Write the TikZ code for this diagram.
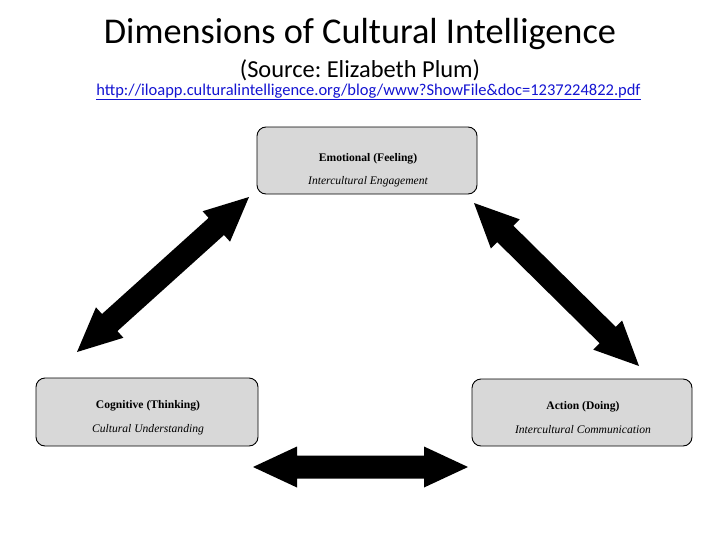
\documentclass[tikz,border=0pt]{standalone}
\usepackage{fontspec}
\setmainfont{Liberation Serif}
\newfontfamily\calib{Carlito}
\usetikzlibrary{calc}
\frenchspacing
\definecolor{boxfill}{RGB}{216,216,216}
\definecolor{linkblue}{RGB}{20,20,210}
\newcommand{\dblarrow}[2]{%
  \fill (#1)
    -- ($($(#1)!44pt!(#2)$)!20.5pt!90:(#1)$)
    -- ($($(#1)!44pt!(#2)$)!11.5pt!90:(#1)$)
    -- ($($(#2)!44pt!(#1)$)!11.5pt!90:(#1)$)
    -- ($($(#2)!44pt!(#1)$)!20.5pt!90:(#1)$)
    -- (#2)
    -- ($($(#2)!44pt!(#1)$)!20.5pt!-90:(#1)$)
    -- ($($(#2)!44pt!(#1)$)!11.5pt!-90:(#1)$)
    -- ($($(#1)!44pt!(#2)$)!11.5pt!-90:(#1)$)
    -- ($($(#1)!44pt!(#2)$)!20.5pt!-90:(#1)$)
    -- cycle;}
\begin{document}
\begin{tikzpicture}[x=1pt,y=-1pt,
  dimbox/.style={draw=black, line width=0.9pt, fill=boxfill, rounded corners=9pt, inner sep=0pt},
  headtxt/.style={font=\fontsize{11.6}{13}\selectfont\bfseries, inner sep=0pt},
  subtxt/.style={font=\fontsize{11.6}{13}\selectfont\itshape, inner sep=0pt}]
\useasboundingbox (0,0) rectangle (728,546);
\fill[white] (0,0) rectangle (728,546);
% titles
\node[font=\calib\fontsize{36.3}{40}\selectfont, inner sep=0pt] (title) at (360,34) {Dimensions of Cultural Intelligence};
\node[font=\calib\fontsize{24.4}{28}\selectfont, inner sep=0pt] (source) at (360,70) {(Source: Elizabeth Plum)};
\node[font=\calib\fontsize{16.5}{20}\selectfont, text=linkblue, inner sep=0pt] (url) at (368.5,92) {\underline{http://iloapp.culturalintelligence.org/blog/www?ShowFile\&doc=1237224822.pdf}};
% boxes
\node[dimbox, minimum width=220pt, minimum height=67pt] (emo) at (367,160.5) {};
\node[dimbox, minimum width=222pt, minimum height=68pt] (cog) at (147,412) {};
\node[dimbox, minimum width=220pt, minimum height=67pt] (act) at (582,412.5) {};
\node[headtxt] (emoh) at (368,159) {Emotional (Feeling)};
\node[subtxt] (emos) at (368,182) {Intercultural Engagement};
\node[headtxt] (cogh) at (148,406) {Cognitive (Thinking)};
\node[subtxt] (cogs) at (148,430) {Cultural Understanding};
\node[headtxt] (acth) at (583,407) {Action (Doing)};
\node[subtxt] (acts) at (583,430) {Intercultural Communication};
% arrows
\coordinate (l1) at (249,197);
\coordinate (l2) at (77,352);
\coordinate (r1) at (474,203);
\coordinate (r2) at (639,366);
\coordinate (b1) at (253,467);
\coordinate (b2) at (468,467);
\dblarrow{l1}{l2}
\dblarrow{r1}{r2}
\dblarrow{b1}{b2}
\end{tikzpicture}
\end{document}
